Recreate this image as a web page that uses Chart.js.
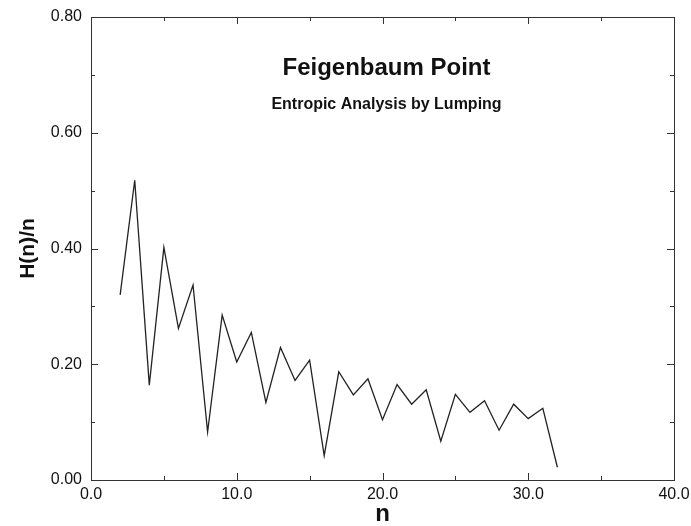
<!DOCTYPE html>
<html>
<head>
<meta charset="utf-8">
<script src="https://cdn.jsdelivr.net/npm/chart.js@4.4.0/dist/chart.umd.min.js"></script>
<style>
  html, body { margin: 0; padding: 0; background: #fff; }
  #wrap { width: 691px; height: 526px; }
</style>
</head>
<body>
<div id="wrap"><canvas id="chart"></canvas></div>
<script>
/* --------------- Data --------------------- */
const nValues = [2, 3, 4, 5, 6, 7, 8, 9, 10, 11, 12, 13, 14, 15, 16, 17,
  18, 19, 20, 21, 22, 23, 24, 25, 26, 27, 28, 29, 30, 31, 32];
const hValues = [0.320, 0.518, 0.164, 0.402, 0.262, 0.337, 0.083, 0.285,
  0.204, 0.255, 0.134, 0.229, 0.172, 0.207, 0.042, 0.187, 0.147, 0.175,
  0.104, 0.165, 0.131, 0.156, 0.067, 0.148, 0.117, 0.137, 0.086, 0.131,
  0.106, 0.124, 0.022];
const xTicks = [0, 10, 20, 30, 40];
const yTicks = [0, 0.2, 0.4, 0.6, 0.8];
const titleText = "Feigenbaum Point";
const subtitleText = "Entropic Analysis by Lumping";

const FONT = "'Liberation Sans', Arial, Helvetica, sans-serif";
const INK = "#111";

/* --------------- Frame, inward ticks and titles --------------------- */
const framePlugin = {
  id: "frame",
  afterDraw(chart) {
    const { ctx, chartArea: a, scales } = chart;
    const xs = scales.x, ys = scales.y;
    ctx.save();
    ctx.strokeStyle = "#333";
    ctx.lineWidth = 1;
    ctx.strokeRect(Math.round(a.left) + 0.5, Math.round(a.top) + 0.5,
      Math.round(a.right - a.left), Math.round(a.bottom - a.top));

    ctx.beginPath();
    // x ticks every 5, major every 10
    for (let v = xTicks[0]; v <= xTicks[xTicks.length - 1]; v += 5) {
      const px = Math.round(xs.getPixelForValue(v)) + 0.5;
      const len = v % 10 === 0 ? 7 : 4;
      ctx.moveTo(px, a.bottom); ctx.lineTo(px, a.bottom - len);
      ctx.moveTo(px, a.top); ctx.lineTo(px, a.top + len);
    }
    // y ticks every 0.1, major every 0.2
    for (let i = 0; i <= 8; i++) {
      const py = Math.round(ys.getPixelForValue(i / 10)) + 0.5;
      const len = i % 2 === 0 ? 7 : 4;
      ctx.moveTo(a.left, py); ctx.lineTo(a.left + len, py);
      ctx.moveTo(a.right, py); ctx.lineTo(a.right - len, py);
    }
    ctx.stroke();

    // titles inside the plot
    ctx.fillStyle = "#111";
    ctx.textAlign = "center";
    ctx.textBaseline = "middle";
    const cx = (a.left + a.right) / 2 + 4;
    ctx.font = "bold 24px " + FONT;
    ctx.fillText(titleText, cx, 68);
    ctx.font = "bold 16px " + FONT;
    ctx.fillText(subtitleText, cx, 105);
    ctx.restore();
  },
};

/* --------------- Chart --------------------- */
const chart = new Chart(document.getElementById("chart"), {
  type: "line",
  plugins: [framePlugin],
  data: {
    datasets: [
      {
        data: nValues.map((n, i) => ({ x: n, y: hValues[i] })),
        borderColor: "#222",
        borderWidth: 1.3,
        pointRadius: 0,
        tension: 0,
        fill: false,
      },
    ],
  },
  options: {
    responsive: true,
    maintainAspectRatio: false,
    animation: false,
    layout: { padding: { top: 17, right: 17, left: 0, bottom: 0 } },
    plugins: {
      legend: { display: false },
      tooltip: { enabled: false },
    },
    scales: {
      x: {
        type: "linear",
        min: 0,
        max: 40,
        afterBuildTicks: (s) => { s.ticks = xTicks.map((v) => ({ value: v })); },
        afterFit: (s) => { s.height = 46; s.paddingLeft = 0; s.paddingRight = 0; },
        grid: { display: false, drawTicks: false },
        border: { display: false },
        ticks: {
          padding: 5,
          color: INK,
          font: { family: FONT, size: 16 },
          maxRotation: 0,
          callback: (v) => Number(v).toFixed(1),
        },
        title: {
          display: true,
          text: "n",
          color: "#111",
          font: { family: FONT, size: 24, weight: "bold", lineHeight: 1 },
          padding: { top: 0, bottom: 0 },
        },
      },
      y: {
        min: 0,
        max: 0.8,
        afterBuildTicks: (s) => { s.ticks = yTicks.map((v) => ({ value: v })); },
        afterFit: (s) => { s.width = 91; s.paddingTop = 0; s.paddingBottom = 0; },
        grid: { display: false, drawTicks: false },
        border: { display: false },
        ticks: {
          padding: 9,
          color: INK,
          font: { family: FONT, size: 16 },
          callback: (v) => Number(v).toFixed(2),
        },
        title: {
          display: true,
          text: "H(n)/n",
          color: "#111",
          font: { family: FONT, size: 21, weight: "bold", lineHeight: 1 },
          padding: { top: 18, bottom: 0 },
        },
      },
    },
  },
});
</script>
</body>
</html>
